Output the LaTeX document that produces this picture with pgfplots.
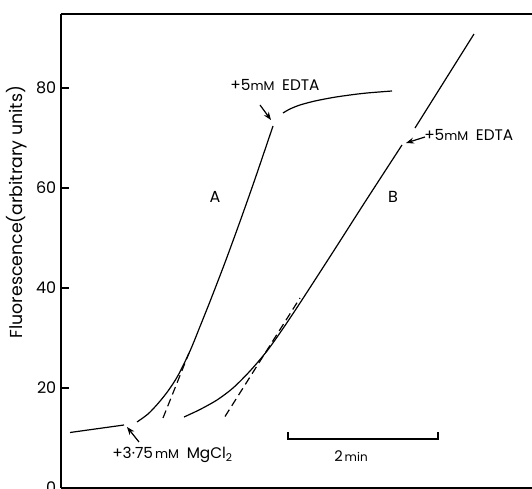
\documentclass[border=0pt]{standalone}
\usepackage{pgfplots}
\pgfplotsset{compat=1.18}
\usepackage{fontspec}
\setmainfont{Poppins}
\usetikzlibrary{arrows.meta}

\begin{document}
\begin{tikzpicture}
\begin{axis}[
  scale only axis, width=353.25pt, height=355.5pt,
  xmin=61, xmax=532, ymin=0, ymax=94.8,
  axis x line*=bottom, axis y line*=left,
  axis line style={line width=1pt},
  xtick=\empty,
  ytick={0,20,40,60,80},
  tick align=inside, major tick length=6pt,
  tick style={line width=1pt, black},
  yticklabel style={font=\fontsize{12}{14}\selectfont},
  /pgf/number format/assume math mode=true,
  ylabel={Fluorescence(arbitrary units)},
  ylabel style={at={(rel axis cs:-0.0934,0.582)}, anchor=center, font=\fontsize{13}{15}\selectfont},
  clip=false,
  every axis plot/.append style={line width=0.9pt, black},
]
% top spine
\draw[line width=1pt] (rel axis cs:0,1) -- (rel axis cs:1,1);

% curve A before MgCl2
\addplot[sharp plot] coordinates {(70,11.1) (124,12.6)};
% curve A main
\addplot[smooth] coordinates {(137,13.2) (148,14.8) (158,16.9) (168,19.4) (178,22.5) (190,27.4) (200,32.3) (210,37.3) (225,45.1) (240,53.3) (255,61.8) (273,72.4)};
% curve A after EDTA
\addplot[smooth] coordinates {(283,75.0) (290,75.8) (300,76.6) (315,77.4) (333,78.1) (350,78.6) (367,79.0) (392,79.4)};
% dashed A
\addplot[sharp plot, dash pattern=on 6pt off 3.5pt] coordinates {(163,14.0) (189,27.0)};

% curve B main
\addplot[smooth] coordinates {(184,14.2) (200,15.7) (217,17.6) (233,20.0) (250,23.4) (267,27.4) (283,31.9) (300,37.0) (333,47.2) (365,57.2) (402,68.6)};
% curve B after EDTA
\addplot[sharp plot] coordinates {(415,72.0) (474,90.8)};
% dashed B
\addplot[sharp plot, dash pattern=on 6pt off 3.5pt] coordinates {(225,14.3) (300,38.0)};

% scale bar
\addplot[sharp plot, line width=1pt] coordinates {(288,11.2) (288,9.8) (438,9.8) (438,11.2)};

% arrows
\draw[line width=0.9pt, -{Stealth[length=6pt,width=4.5pt]}] (axis cs:139,9.2) -- (axis cs:127,12.2);
\draw[line width=0.9pt, -{Stealth[length=6pt,width=4.5pt]}] (axis cs:260,76.6) -- (axis cs:271,73.6);
\draw[line width=0.9pt, -{Stealth[length=6pt,width=4.5pt]}] (axis cs:425,70.2) -- (axis cs:406,69.0);

% labels
\node[anchor=west, inner sep=0pt, font=\fontsize{11.5}{13}\selectfont] at (axis cs:112,6.6) {+3·75{\fontsize{9.5}{11}\selectfont\,mM}\enspace MgCl\textsubscript{2}};
\node[anchor=center, inner sep=0pt, font=\fontsize{11.5}{13}\selectfont] at (axis cs:275,80.6) {+5{\fontsize{9.5}{11}\selectfont mM}\enspace EDTA};
\node[anchor=west, inner sep=0pt, font=\fontsize{11.5}{13}\selectfont] at (axis cs:424,70.6) {+5{\fontsize{9.5}{11}\selectfont mM}\enspace EDTA};
\node[font=\fontsize{12}{14}\selectfont] at (axis cs:215,58.2) {A};
\node[font=\fontsize{12}{14}\selectfont] at (axis cs:393,58.2) {B};
\node[anchor=center, inner sep=0pt, font=\fontsize{11}{13}\selectfont] at (axis cs:351,6.4) {2{\fontsize{9}{11}\selectfont\,min}};

\coordinate (bbA) at (axis cs:0,-0.2);
\coordinate (bbB) at (axis cs:532,97.6);
\end{axis}
\pgfresetboundingbox
\path[use as bounding box] (bbA) rectangle (bbB);
\end{tikzpicture}
\end{document}
